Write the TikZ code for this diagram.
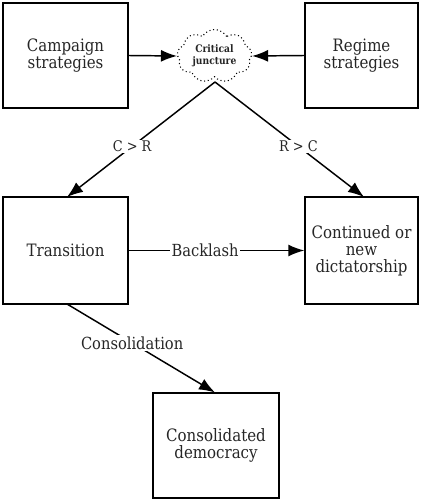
\documentclass[tikz,border=0pt]{standalone}
\usepackage{fontspec}
\setmainfont{DejaVu Serif}[FakeStretch=0.88]
\usetikzlibrary{arrows.meta,shapes.symbols}
\begin{document}
\begin{tikzpicture}[x=0.75pt,y=-0.75pt,
  box/.style={draw,line width=1.1pt,inner sep=0pt,align=center,text=black!85,font=\fontsize{12.8}{12.6}\selectfont},
  conn/.style={line width=1.1pt,-{Latex[length=12pt,width=9pt]}},
  lab/.style={fill=white,inner sep=1pt,text=black!85,font=\fontsize{12.5}{13}\selectfont},
  smalllab/.style={lab,font=\fontsize{11}{12}\selectfont}]
\useasboundingbox (0,0) rectangle (429,499);
\node[box,minimum width=125*0.75pt,minimum height=105*0.75pt] (camp) at (65.5,55.5) {Campaign\\strategies};
\node[box,minimum width=113*0.75pt,minimum height=105*0.75pt] (reg) at (361.5,55.5) {Regime\\strategies};
\node[cloud,cloud puffs=9,cloud puff arc=120,aspect=1.5,draw,dotted,line width=0.8pt,minimum width=75*0.75pt,minimum height=53*0.75pt,inner sep=0pt,align=center,text=black!85,font=\bfseries\fontsize{7.8}{8.8}\selectfont] (cj) at (214.5,56) {Critical\\juncture};
\node[box,minimum width=125*0.75pt,minimum height=107*0.75pt] (tr) at (65.5,250.5) {Transition};
\node[box,minimum width=113*0.75pt,minimum height=107*0.75pt] (cd) at (361.5,250.5) {Continued or\\new\\dictatorship};
\node[box,minimum width=126*0.75pt,minimum height=105*0.75pt] (cons) at (216,445.5) {Consolidated\\democracy};
\coordinate (cjb) at (215,82);
\draw[conn] (camp.east) -- (cj.west);
\draw[conn] (reg.west) -- (cj.east);
\draw[conn] (cjb) -- node[smalllab,pos=0.56] {C > R} (67,197);
\draw[conn] (cjb) -- node[smalllab,pos=0.56] {R > C} (364,197);
\draw[conn] (tr.east) -- node[lab,pos=0.435] {Backlash} (cd.west);
\draw[conn] (67,304) -- node[lab,pos=0.44] {Consolidation} (215,392.5);
\end{tikzpicture}
\end{document}
